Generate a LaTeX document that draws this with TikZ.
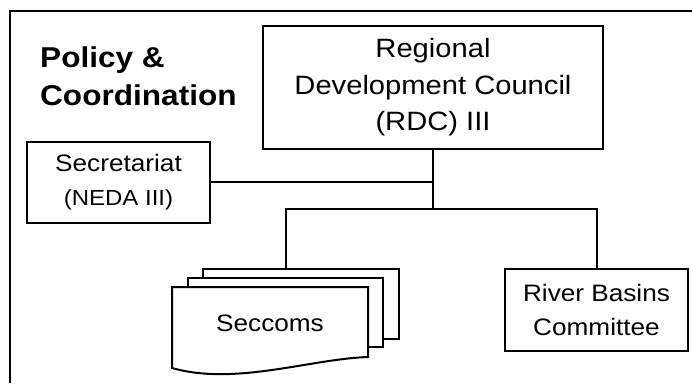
\documentclass[tikz,border=0pt]{standalone}
\usepackage{fontspec}
\setmainfont{Liberation Sans}[FakeStretch=1.1]
\usepackage{tikz}
\usetikzlibrary{calc,positioning}
\tikzset{
  orgline/.style={draw=black, line width=2pt},
  unit/.style={orgline, fill=white, align=center, inner sep=0pt, font=\fontsize{23.8}{31}\selectfont},
  council/.style={unit, minimum width=340pt, minimum height=123pt, font=\fontsize{26.5}{36.5}\selectfont},
  support/.style={unit, minimum width=183pt, minimum height=81pt, font=\fontsize{23.8}{34}\selectfont},
  sheet/.style={orgline, fill=white},
  heading/.style={align=left, inner sep=0pt, font=\fontsize{28.7}{38}\selectfont\bfseries}
}

\begin{document}
\begin{tikzpicture}[x=1pt, y=1pt]
\useasboundingbox (0,0) rectangle (692,383);
% frame
\draw[orgline] (10,0) |- (692,372);
\node[heading, anchor=west] (title) at (40,306.5) {Policy \&\\Coordination};
\node[council] (rdc) at (433,295.5) {Regional\\Development Council\\(RDC) III};
\node[support] (sec) at (118.5,200.5) {Secretariat\\{\fontsize{21.8}{34}\selectfont (NEDA III)}};
\node[support, minimum height=82pt] (rbc) at (596.5,73) {River Basins\\Committee};
% stacked committee sheets
\coordinate (sc) at (270,60);
\draw[sheet] ($(sc)+(-67,-16)$) rectangle ($(sc)+(129,54)$);
\draw[sheet] ($(sc)+(-82,-24)$) rectangle ($(sc)+(113,45)$);
\draw[sheet] ($(sc)+(-98,36)$) -- ($(sc)+(98,36)$) -- ($(sc)+(98,-34)$)
  .. controls ($(sc)+(40,-36)$) and ($(sc)+(-35,-63)$) .. ($(sc)+(-98,-45)$) -- cycle;
\node[font=\fontsize{23.8}{31}\selectfont, inner sep=0pt] (seccoms) at (sc) {Seccoms};
\coordinate (sctop) at ($(sc)+(16,54)$);
% links
\coordinate (bus) at (433,174);
\draw[orgline] (rdc.south) -- (bus);
\draw[orgline] (sec.east) -- (sec.east -| bus);
\draw[orgline] (sctop) |- (bus) -| (rbc.north);
\end{tikzpicture}
\end{document}
